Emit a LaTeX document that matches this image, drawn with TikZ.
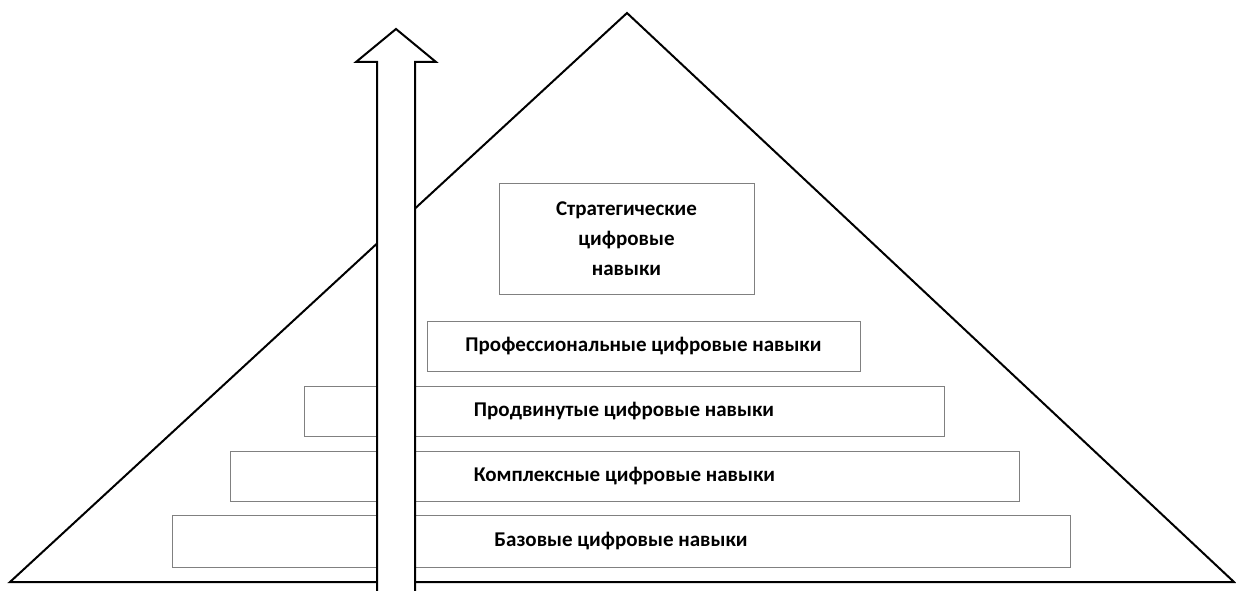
\documentclass[tikz,border=0pt]{standalone}
\usepackage{fontspec}
\setmainfont{Carlito}
\begin{document}
\begin{tikzpicture}[x=1pt,y=-1pt,
    level/.style={rectangle,draw=black!50,line width=0.8pt,inner sep=0pt,align=center,
      font=\fontsize{21}{30}\selectfont\bfseries}]
\useasboundingbox (0,0) rectangle (1236,591);

% pyramid
\draw[line width=2pt] (10,582) -- (627,13) -- (1234,582) -- cycle;

\node[level,minimum width=255,minimum height=111] (strat) at (626.5,238.5){Стратегические\\цифровые\\навыки};
\node[level,minimum width=433,minimum height=50] (prof) at (643.5,346){Профессиональные цифровые навыки};
\node[level,minimum width=640,minimum height=50] (adv) at (624,411){Продвинутые цифровые навыки};
\node[level,minimum width=789,minimum height=50] (compl) at (624.5,476){Комплексные цифровые навыки};
\node[level,minimum width=898,minimum height=52] (base) at (621,541){Базовые цифровые навыки};

% growth arrow
\draw[line width=2pt,fill=white] (377,600) -- (377,62) -- (356,62) -- (396,29)
  -- (436,62) -- (415,62) -- (415,600);

\end{tikzpicture}
\end{document}
